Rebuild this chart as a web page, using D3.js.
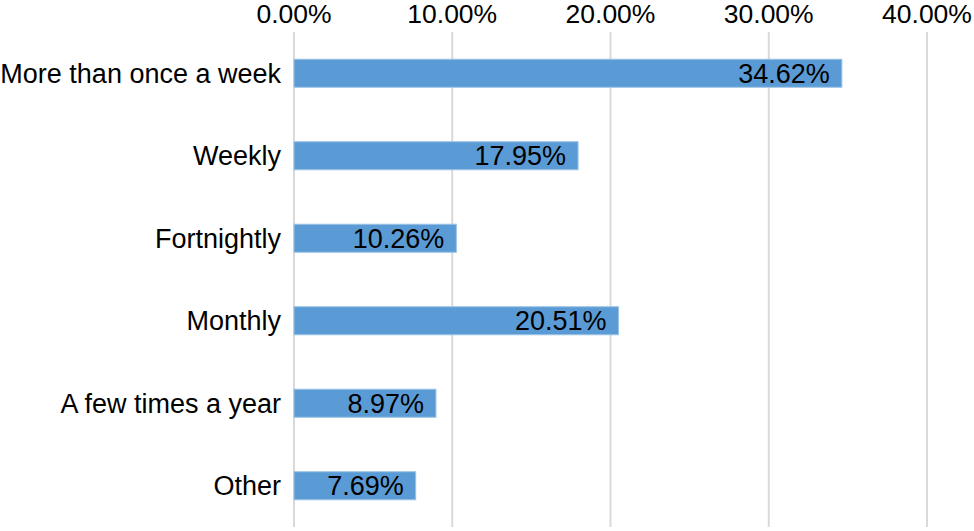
<!DOCTYPE html>
<html><head><meta charset="utf-8">
<script src="https://cdn.jsdelivr.net/npm/d3@7"></script>
<style>body{margin:0;background:#fff;} text{font-family:"Liberation Sans",Arial,sans-serif;}</style>
</head><body>
<svg id="c" width="974" height="531"></svg>
<script>
const categories = ["More than once a week","Weekly","Fortnightly","Monthly","A few times a year","Other"];
const values = [0.3462,0.1795,0.1026,0.2051,0.0897,0.0769];
const valueLabels = ["34.62%","17.95%","10.26%","20.51%","8.97%","7.69%"];
const ticks = [0,0.1,0.2,0.3,0.4];
const tickLabels = ["0.00%","10.00%","20.00%","30.00%","40.00%"];

const svg = d3.select("#c");
const x = d3.scaleLinear().domain([0,0.4]).range([294,927]);
const y = d3.scaleBand().domain(categories).range([32,527]).paddingInner(0.66).paddingOuter(0.33);

svg.append("g").selectAll("line").data(ticks).join("line")
  .attr("x1",d=>x(d)).attr("x2",d=>x(d)).attr("y1",32).attr("y2",527)
  .attr("stroke","#d9d9d9").attr("stroke-width",2);

svg.append("g").selectAll("text").data(ticks).join("text")
  .attr("x",d=>x(d)).attr("y",23).attr("text-anchor","middle")
  .attr("font-size",26.5).attr("fill","#000").text((d,i)=>tickLabels[i]);

svg.append("g").selectAll("rect").data(categories).join("rect")
  .attr("x",x(0)).attr("y",d=>y(d)).attr("height",y.bandwidth())
  .attr("width",(d,i)=>x(values[i])-x(0))
  .attr("fill","#5b9bd5").attr("stroke","#9dc3e6").attr("stroke-width",1);

svg.append("g").selectAll("text").data(categories).join("text")
  .attr("x",281).attr("y",d=>y(d)+y.bandwidth()/2).attr("dy","0.36em")
  .attr("text-anchor","end").attr("font-size",27).attr("fill","#000").text(d=>d);

svg.append("g").selectAll("text").data(categories).join("text")
  .attr("x",(d,i)=>x(values[i])-12).attr("y",d=>y(d)+y.bandwidth()/2).attr("dy","0.36em")
  .attr("text-anchor","end").attr("font-size",27).attr("fill","#000").text((d,i)=>valueLabels[i]);
</script>
</body></html>
